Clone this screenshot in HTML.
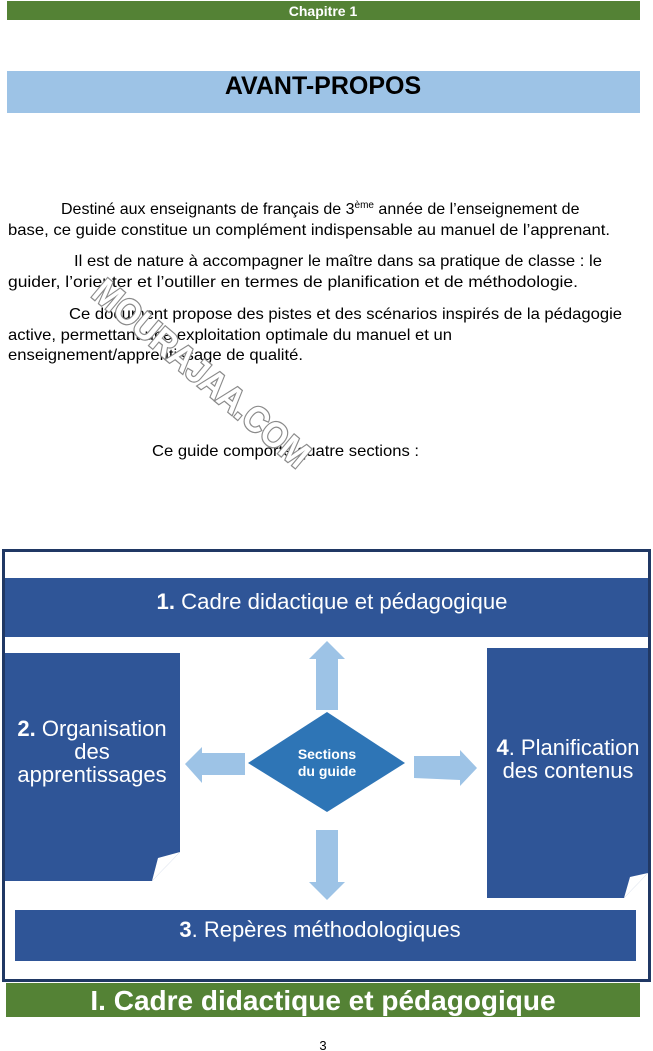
<!DOCTYPE html>
<html><head><meta charset="utf-8"><style>
html,body{margin:0;padding:0;background:#fff}
svg{display:block}
text{font-family:"Liberation Sans",Arial,sans-serif}
</style></head><body>
<svg width="653" height="1051" viewBox="0 0 653 1051" xmlns="http://www.w3.org/2000/svg">
<rect x="7" y="1" width="633" height="19" fill="#548235"/>
<text x="323" y="16" font-size="14" font-weight="bold" fill="#fff" text-anchor="middle">Chapitre 1</text>
<rect x="7" y="71" width="633" height="42" fill="#9dc3e6"/>
<text x="323" y="94" font-size="25" font-weight="bold" fill="#000" text-anchor="middle">AVANT-PROPOS</text>
<g font-size="16" fill="#000" lengthAdjust="spacingAndGlyphs">
<text x="61" y="214">Destiné aux enseignants de français de 3<tspan font-size="10" dy="-6">ème</tspan><tspan dy="6"> année de l’enseignement de</tspan></text>
<text x="8" y="235" textLength="602" lengthAdjust="spacingAndGlyphs">base, ce guide constitue un complément indispensable au manuel de l’apprenant.</text>
<text x="74" y="266" textLength="528" lengthAdjust="spacingAndGlyphs">Il est de nature à accompagner le maître dans sa pratique de classe : le</text>
<text x="8" y="287" textLength="570" lengthAdjust="spacingAndGlyphs">guider, l’orienter et l’outiller en termes de planification et de méthodologie.</text>
<text x="69" y="319" textLength="553" lengthAdjust="spacingAndGlyphs">Ce document propose des pistes et des scénarios inspirés de la pédagogie</text>
<text x="8" y="340" textLength="444" lengthAdjust="spacingAndGlyphs">active, permettant une exploitation optimale du manuel et un</text>
<text x="8" y="360" textLength="295" lengthAdjust="spacingAndGlyphs">enseignement/apprentissage de qualité.</text>
<text x="152" y="456" textLength="267" lengthAdjust="spacingAndGlyphs">Ce guide comporte quatre sections :</text>
</g>
<text x="200" y="385" font-size="36" font-weight="bold" fill="#fff" stroke="#8a8a8a" stroke-width="2.5" paint-order="stroke" transform="rotate(40 200 375)" text-anchor="middle" textLength="270" lengthAdjust="spacingAndGlyphs">MOURAJAA.COM</text>
<rect x="3.5" y="550.5" width="646" height="430" fill="none" stroke="#203864" stroke-width="3"/>
<rect x="5" y="578" width="643" height="59" fill="#2f5597"/>
<text x="332" y="609" font-size="22" fill="#fff" text-anchor="middle" textLength="351" lengthAdjust="spacingAndGlyphs"><tspan font-weight="bold">1.</tspan> Cadre didactique et pédagogique</text>
<polygon points="5,653 180,653 180,852 152,881 5,881" fill="#2f5597"/>
<polygon points="180,852 152,881 158,858" fill="#fff"/>
<g font-size="22" fill="#fff" text-anchor="middle">
<text x="92" y="736"><tspan font-weight="bold">2.</tspan> Organisation</text>
<text x="92" y="759">des</text>
<text x="92" y="782">apprentissages</text>
</g>
<polygon points="487,648 648,648 648,873 624,898 487,898" fill="#2f5597"/>
<polygon points="648,873 624,898 630,877" fill="#fff"/>
<g font-size="22" fill="#fff" text-anchor="middle">
<text x="568" y="755"><tspan font-weight="bold">4</tspan>. Planification</text>
<text x="568" y="778">des contenus</text>
</g>
<rect x="15" y="910" width="621" height="51" fill="#2f5597"/>
<text x="320" y="937" font-size="22" fill="#fff" text-anchor="middle"><tspan font-weight="bold">3</tspan>. Repères méthodologiques</text>
<polygon points="327,641 345,659 338,659 338,710 316,710 316,659 309,659" fill="#9dc3e6"/>
<polygon points="185,764 202,747 202,753 245,753 245,775 202,775 202,783" fill="#9dc3e6"/>
<polygon points="477,768 460,750 460,756 414,756 414,778 460,780 460,786" fill="#9dc3e6"/>
<polygon points="327,900 345,882 338,882 338,830 316,830 316,882 309,882" fill="#9dc3e6"/>
<polygon points="327,712 405,763 327,812 248,763" fill="#2e75b6"/>
<text x="327" y="759" font-size="14" font-weight="bold" fill="#fff" text-anchor="middle">Sections</text>
<text x="327" y="776" font-size="14" font-weight="bold" fill="#fff" text-anchor="middle">du guide</text>
<rect x="6" y="983" width="634" height="34" fill="#548235"/>
<text x="323" y="1010" font-size="28" font-weight="bold" fill="#fff" text-anchor="middle">I. Cadre didactique et pédagogique</text>
<text x="323" y="1051" font-size="13" fill="#000" text-anchor="middle" dy="-1">3</text>
</svg>
</body></html>
